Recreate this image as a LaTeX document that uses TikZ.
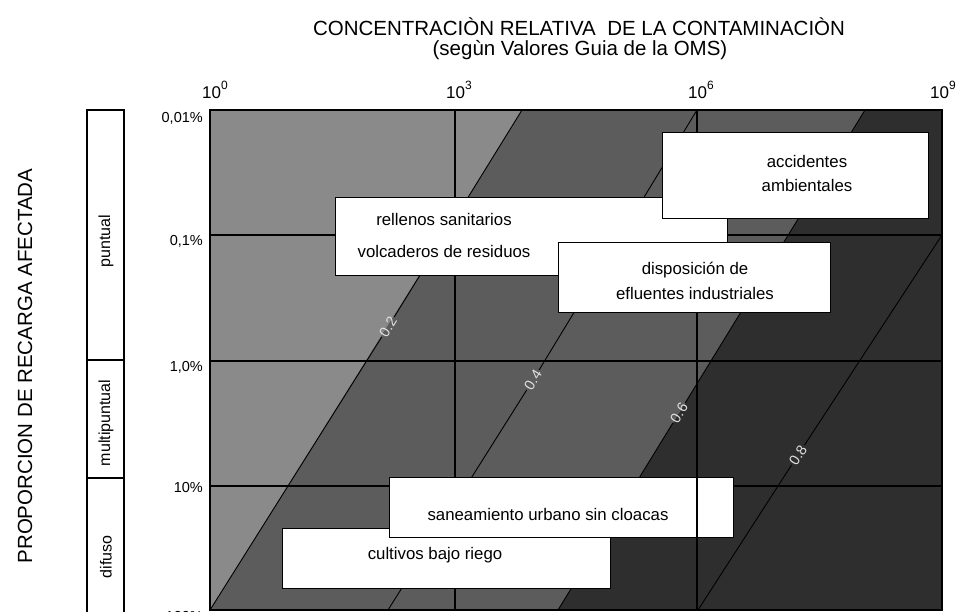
\documentclass[tikz,border=0pt]{standalone}
\usepackage{fontspec}
\setmainfont{Liberation Sans}
\definecolor{lightg}{HTML}{8A8A8A}
\definecolor{midg}{HTML}{5C5C5C}
\definecolor{darkg}{HTML}{2E2E2E}
\definecolor{labg}{HTML}{E0E0E0}
\begin{document}
\begin{tikzpicture}[x=1pt,y=-1pt,
  frameline/.style={draw=black,line width=1.1pt},
  gridline/.style={draw=black,line width=1.1pt},
  diagline/.style={draw=black,line width=0.9pt},
  tbox/.style={draw=black,fill=white,line width=1.1pt,inner sep=0pt,anchor=north west},
  boxtext/.style={font=\fontsize{16.8}{19}\selectfont,inner sep=0pt,align=center},
  titletext/.style={font=\fontsize{20.5}{23}\selectfont,inner sep=0pt},
  ticklab/.style={font=\fontsize{17}{20}\selectfont,inner sep=0pt,anchor=base},
  ylab/.style={font=\fontsize{14.5}{17}\selectfont,inner sep=0pt,anchor=east},
  sidelab/.style={font=\fontsize{16}{19}\selectfont,inner sep=0pt,rotate=90},
  diaglab/.style={font=\fontsize{14.5}{16}\selectfont,text=labg,inner sep=1.5pt,rotate=58}]
\useasboundingbox (0,0) rectangle (961,612);
\clip (0,0) rectangle (961,612);
% corner coordinates of the plot
\coordinate (tl) at (210,110);
\coordinate (tr) at (942,110);
\coordinate (bl) at (210,610);
\coordinate (br) at (942,610);
% shaded regions
\fill[lightg] (210,110) -- (522,110) -- (210,610) -- cycle;
\fill[midg] (522,110) -- (865,110) -- (558,610) -- (210,610) -- cycle;
\fill[darkg] (865,110) -- (942,110) -- (942,610) -- (558,610) -- cycle;
% grid
\coordinate (v3t) at (455,110); \coordinate (v3b) at (455,610);
\coordinate (v6t) at (697,110); \coordinate (v6b) at (697,610);
\coordinate (h1l) at (210,235); \coordinate (h1r) at (942,235);
\coordinate (h2l) at (210,361); \coordinate (h2r) at (942,361);
\coordinate (h3l) at (210,486); \coordinate (h3r) at (942,486);
\draw[gridline] (v3t) -- (v3b);
\draw[gridline] (v6t) -- (v6b);
\draw[gridline] (h1l) -- (h1r);
\draw[gridline] (h2l) -- (h2r);
\draw[gridline] (h3l) -- (h3r);
% diagonal iso-lines with labels
\coordinate (d2a) at (210,610); \coordinate (d2b) at (522,110);
\coordinate (d4a) at (388,610); \coordinate (d4b) at (697,110);
\coordinate (d6a) at (558,610); \coordinate (d6b) at (865,110);
\coordinate (d8a) at (698,610); \coordinate (d8b) at (942,235);
\node[diaglab] (l2) at (388,327) {0.2};
\node[diaglab] (l4) at (533,380) {0.4};
\node[diaglab] (l6) at (679,413) {0.6};
\node[diaglab,rotate=-1] (l8) at (798,455) {0.8};
\draw[diagline] (d2a) -- (l2); \draw[diagline] (l2) -- (d2b);
\draw[diagline] (d4a) -- (l4); \draw[diagline] (l4) -- (d4b);
\draw[diagline] (d6a) -- (l6); \draw[diagline] (l6) -- (d6b);
\draw[diagline] (d8a) -- (l8); \draw[diagline] (l8) -- (d8b);
% frame
\draw[frameline] (tl) rectangle (br);
% boxes
\node[tbox,minimum width=392pt,minimum height=78pt] (b2) at (335,197) {};
\node[boxtext] (t2) at (444,235.5) {rellenos sanitarios\\[13pt]volcaderos de residuos};
\node[tbox,minimum width=272pt,minimum height=70pt] (b3) at (558,242) {};
\node[boxtext] (t3) at (695,281) {disposición de\\[6pt]efluentes industriales};
\node[tbox,minimum width=266pt,minimum height=86pt] (b1) at (662,132) {};
\node[boxtext] (t1) at (807,173.5) {accidentes\\[5pt]ambientales};
\node[tbox,minimum width=328pt,minimum height=60pt] (b5) at (282,528) {};
\node[boxtext] (t5) at (435,555) {cultivos bajo riego};
\node[tbox,minimum width=344pt,minimum height=60pt] (b4) at (389,477) {};
\node[boxtext] (t4) at (548,514) {saneamiento urbano sin cloacas};
\draw[gridline] (b4.north -| v6t) -- (b4.south -| v6t);
% axis tick labels (top)
\node[ticklab] (x0) at (215,99) {10\raisebox{1.1ex}{\fontsize{12}{12}\selectfont 0}};
\node[ticklab] (x3) at (459,99) {10\raisebox{1.1ex}{\fontsize{12}{12}\selectfont 3}};
\node[ticklab] (x6) at (701,99) {10\raisebox{1.1ex}{\fontsize{12}{12}\selectfont 6}};
\node[ticklab] (x9) at (943,99) {10\raisebox{1.1ex}{\fontsize{12}{12}\selectfont 9}};
% axis tick labels (left)
\node[ylab] (y1) at (203,118) {0,01\%};
\node[ylab] (y2) at (203,241) {0,1\%};
\node[ylab] (y3) at (203,367) {1,0\%};
\node[ylab] (y4) at (203,488) {10\%};
\node[ylab] (y5) at (203,617) {100\%};
% titles
\node[titletext] (title1) at (579,27) {CONCENTRACIÒN RELATIVA\ \ DE LA CONTAMINACIÒN};
\node[titletext] (title2) at (580,50) {(segùn Valores Guia de la OMS)};
\node[titletext,rotate=90] (ylabel) at (25,366) {PROPORCION DE RECARGA AFECTADA};
% left category panel
\draw[frameline] (87,110) rectangle (124,630);
\draw[frameline] (87,360) -- (124,360);
\draw[frameline] (87,478) -- (124,478);
\node[sidelab] (s1) at (106,241) {puntual};
\node[sidelab] (s2) at (106,423) {multipuntual};
\node[sidelab] (s3) at (106,557) {difuso};
\end{tikzpicture}
\end{document}
